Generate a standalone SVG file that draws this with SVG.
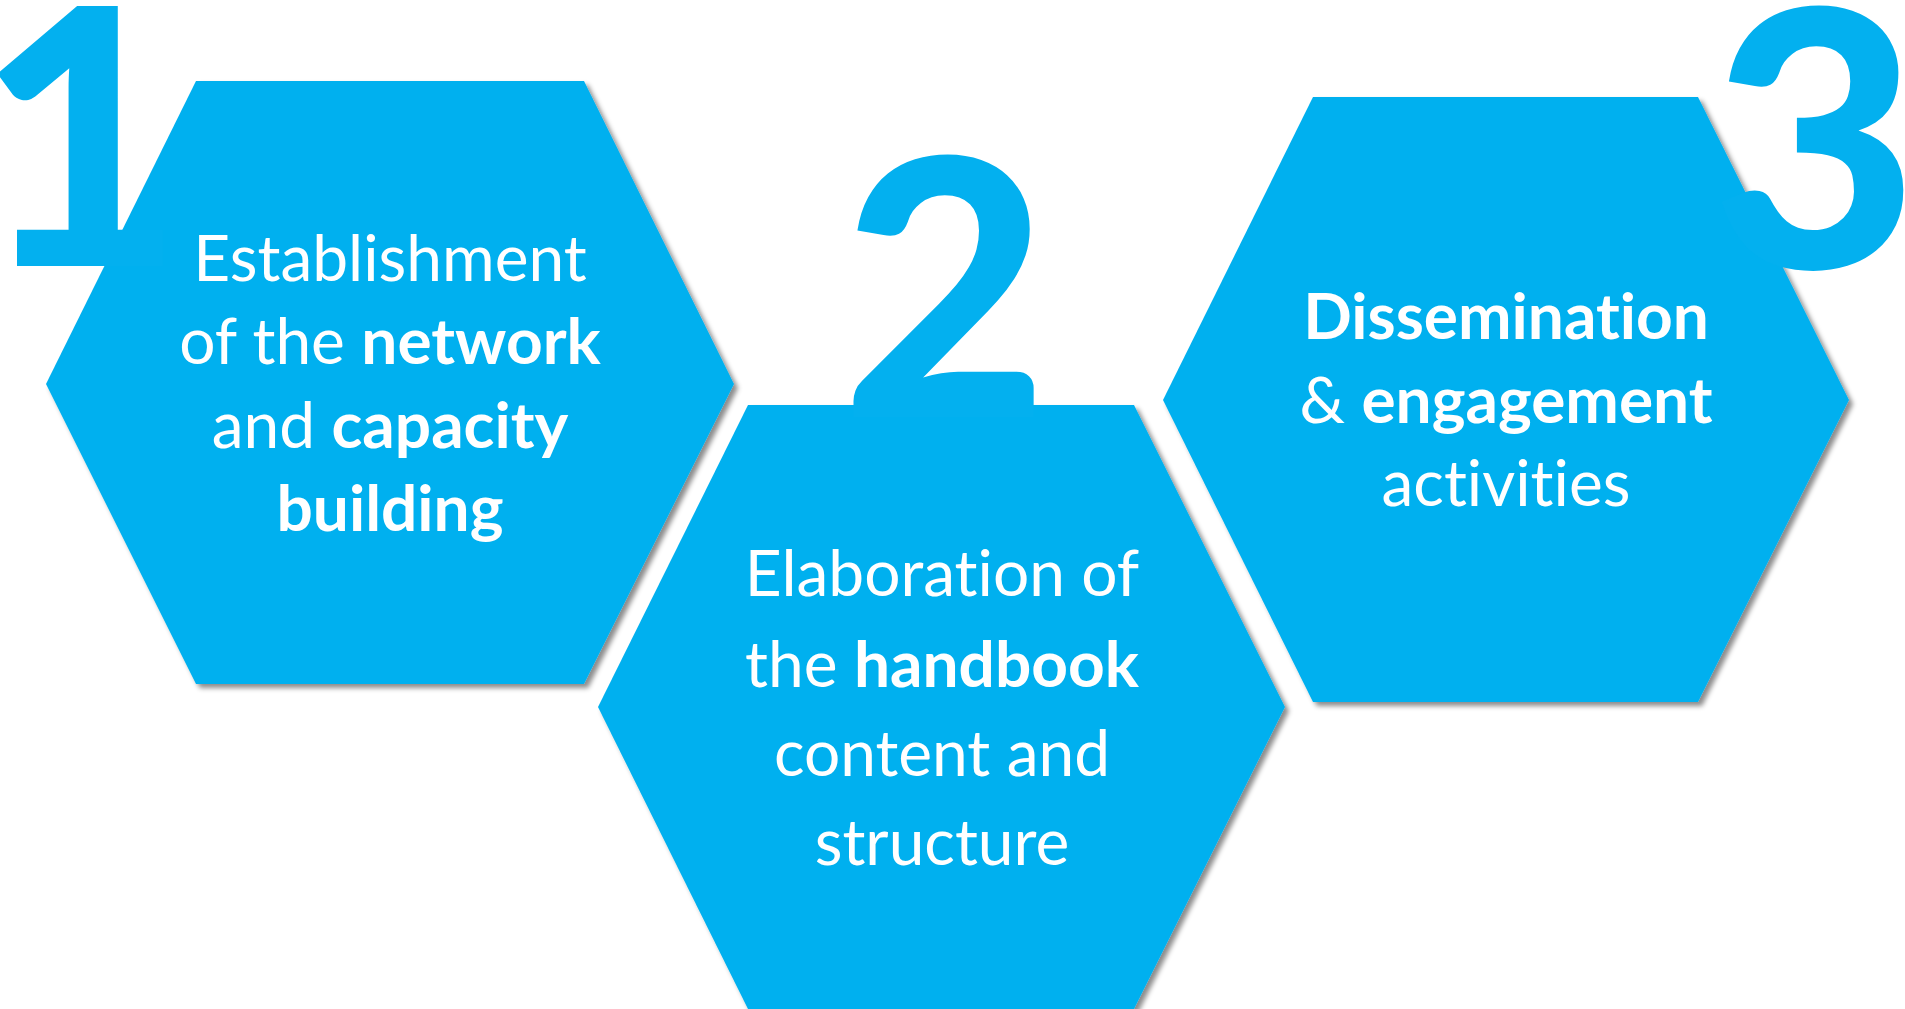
<svg xmlns="http://www.w3.org/2000/svg" width="1905" height="1009" viewBox="0 0 1905 1009">
<defs>
<filter id="sh" x="-10%" y="-10%" width="120%" height="120%">
<feDropShadow dx="4" dy="4" stdDeviation="2.5" flood-color="#000" flood-opacity="0.45"/>
</filter>
</defs>
<style>
.hex{fill:#03B0EF;filter:url(#sh)}
.num{fill:#03B0EF;font-family:Lato,"Open Sans",sans-serif;font-weight:900;text-anchor:middle}
.t{fill:#fff;font-family:Lato,"Open Sans",sans-serif;font-size:64px;font-weight:400;text-anchor:middle;font-variant-ligatures:none}
.b{font-weight:700}
</style>
<rect width="1905" height="1009" fill="#fff"/>
<g id="node1">
<polygon class="hex" points="196,81 584,81 734,384 584,684 196,684 46,384"/>
<text class="num" x="80" y="266" font-size="358">1</text>
<text class="t" x="390" y="281">Establishment</text>
<text class="t" x="390" y="364">of the <tspan class="b">network</tspan></text>
<text class="t" x="390" y="448">and <tspan class="b">capacity</tspan></text>
<text class="t b" x="390" y="531">building</text>
</g>
<g id="node2">
<polygon class="hex" points="748,405 1134,405 1285,707 1134,1009 748,1009 598,707"/>
<text class="num" x="945" y="417" font-size="358">2</text>
<text class="t" x="942" y="596">Elaboration of</text>
<text class="t" x="942" y="687">the <tspan class="b">handbook</tspan></text>
<text class="t" x="942" y="776">content and</text>
<text class="t" x="942" y="865">structure</text>
</g>
<g id="node3">
<polygon class="hex" points="1313,97 1698,97 1849,400 1698,702 1313,702 1163,400"/>
<text class="num" x="1815" y="268" font-size="358">3</text>
<text class="t b" x="1506" y="339">Dissemination</text>
<text class="t" x="1506" y="423">&amp; <tspan class="b">engagement</tspan></text>
<text class="t" x="1506" y="506">activities</text>
</g>
<g id="connectors"/>
</svg>
